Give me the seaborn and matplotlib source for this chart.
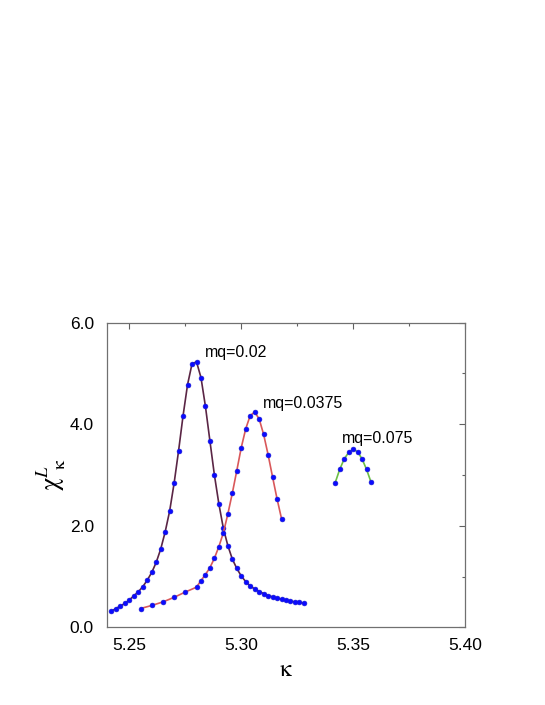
import numpy as np
import matplotlib
matplotlib.use("Agg")
import matplotlib.pyplot as plt
from matplotlib.ticker import MultipleLocator
import seaborn as sns

# mq = 0.02
kappa_1 = [5.242, 5.244, 5.246, 5.248, 5.250, 5.252, 5.254, 5.256, 5.258, 5.260,
           5.262, 5.264, 5.266, 5.268, 5.270, 5.272, 5.274, 5.276, 5.278, 5.280,
           5.282, 5.284, 5.286, 5.288, 5.290, 5.292, 5.294, 5.296, 5.298, 5.300,
           5.302, 5.304, 5.306, 5.308, 5.310, 5.312, 5.314, 5.316, 5.318, 5.320,
           5.322, 5.324, 5.326, 5.328]
chi_1 = [0.32, 0.37, 0.42, 0.47, 0.54, 0.62, 0.70, 0.80, 0.93, 1.08,
         1.28, 1.54, 1.88, 2.29, 2.84, 3.48, 4.17, 4.78, 5.19, 5.23,
         4.92, 4.35, 3.67, 3.00, 2.43, 1.95, 1.61, 1.345, 1.16, 1.01,
         0.90, 0.815, 0.755, 0.705, 0.665, 0.625, 0.60, 0.574, 0.553, 0.532,
         0.515, 0.50, 0.49, 0.475]

# mq = 0.0375
kappa_2 = [5.255, 5.260, 5.265, 5.270, 5.275, 5.280, 5.282, 5.284, 5.286, 5.288,
           5.290, 5.292, 5.294, 5.296, 5.298, 5.300, 5.302, 5.304, 5.306, 5.308,
           5.310, 5.312, 5.314, 5.316, 5.318]
chi_2 = [0.37, 0.43, 0.50, 0.59, 0.695, 0.79, 0.92, 1.04, 1.175, 1.36,
         1.59, 1.86, 2.23, 2.64, 3.085, 3.54, 3.91, 4.17, 4.24, 4.105,
         3.80, 3.40, 2.96, 2.53, 2.14]

# mq = 0.075
kappa_3 = [5.342, 5.344, 5.346, 5.348, 5.350, 5.352, 5.354, 5.356, 5.358]
chi_3 = [2.85, 3.11, 3.315, 3.445, 3.505, 3.46, 3.315, 3.11, 2.86]

labels = ["mq=0.02", "mq=0.0375", "mq=0.075"]
label_pos = [(5.2836, 5.42), (5.3095, 4.40), (5.3451, 3.71)]
line_colors = ["#5a2545", "#d9585a", "#6cbf45"]

x_ticks = [5.25, 5.30, 5.35, 5.40]
y_ticks = [0.0, 2.0, 4.0, 6.0]

sns.set_style("white")
plt.rcParams['font.family'] = ['Liberation Sans', 'DejaVu Sans']
plt.rcParams['mathtext.fontset'] = 'stix'
plt.rcParams['text.color'] = 'black'
plt.rcParams['axes.labelcolor'] = 'black'
plt.rcParams['xtick.color'] = 'black'
plt.rcParams['ytick.color'] = 'black'

fig = plt.figure(figsize=(5.45, 7.05), dpi=100)
ax = fig.add_axes([107/545, 1 - 627.3/705, (465 - 107)/545, (627.3 - 322.7)/705])

series = [(kappa_1, chi_1), (kappa_2, chi_2), (kappa_3, chi_3)]
for (kx, cy), col in zip(series, line_colors):
    sns.lineplot(x=kx, y=cy, ax=ax, color=col, linewidth=1.2, sort=False,
                 marker='o', markersize=3.5, markerfacecolor='#0a0aff',
                 markeredgecolor='#1a1ad0', markeredgewidth=0.4)

for txt, (tx, ty) in zip(labels, label_pos):
    ax.text(tx, ty, txt, fontsize=11.5, ha='left', va='center', color='black')

ax.set_xlim(5.24, 5.40)
ax.set_ylim(0.0, 6.0)
ax.set_xticks(x_ticks)
ax.set_xticklabels([f"{v:.2f}" for v in x_ticks])
ax.set_yticks(y_ticks)
ax.set_yticklabels([f"{v:.1f}" for v in y_ticks])
ax.xaxis.set_minor_locator(MultipleLocator(0.025))
ax.yaxis.set_minor_locator(MultipleLocator(1.0))
ax.tick_params(which='both', direction='in', top=True, right=True,
               color='#606060', width=0.8, labelcolor='black')
ax.tick_params(which='major', length=4, labelsize=12.5)
ax.tick_params(axis='x', which='major', pad=8)
ax.tick_params(axis='y', which='major', pad=9.5)
ax.tick_params(which='minor', length=2.5)
for sp in ax.spines.values():
    sp.set_color('#707070')
    sp.set_linewidth(0.9)

ax.set_xlabel(r'$\mathrm{\kappa}$', fontsize=17, labelpad=4, color='black')
ax.set_ylabel(r'$\mathrm{\chi}^{L}_{\;\;\mathrm{\kappa}}$', fontsize=19,
              labelpad=1, color='black')

fig.savefig("out.png", dpi=100)
